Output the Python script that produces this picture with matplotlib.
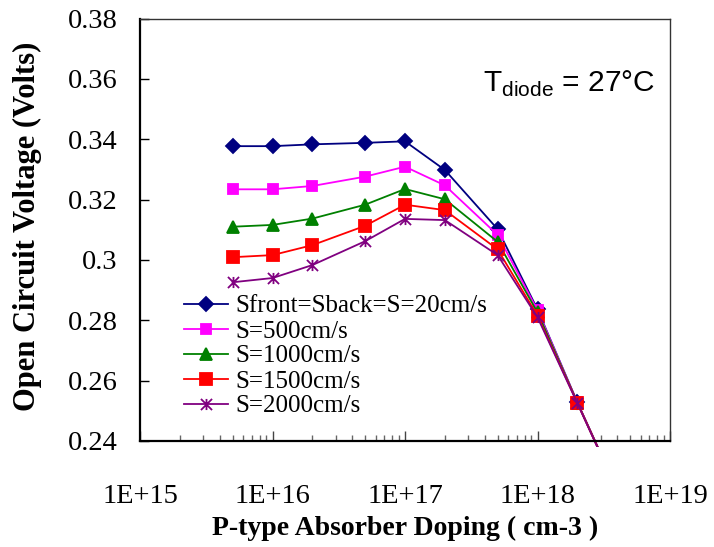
import matplotlib
matplotlib.use("Agg")
import matplotlib.pyplot as plt
from matplotlib.path import Path
from matplotlib.transforms import Bbox, TransformedBbox
from matplotlib.ticker import FixedLocator, LogLocator, NullFormatter

plt.rcParams["font.family"] = ["Liberation Serif", "DejaVu Serif"]
plt.rcParams["mathtext.fontset"] = "custom"
plt.rcParams["mathtext.rm"] = "Liberation Sans"

# doping levels (cm-3)
doping = [5e15, 1e16, 2e16, 5e16, 1e17, 2e17, 5e17, 1e18, 2e18, 5e18]

voc_20 = [0.3377, 0.3377, 0.3383, 0.3388, 0.3393, 0.3298, 0.3102, 0.2836, 0.2528, 0.2145]
voc_500 = [0.3234, 0.3234, 0.3245, 0.3276, 0.3309, 0.3247, 0.3083, 0.2833, 0.2528, 0.2145]
voc_1000 = [0.3110, 0.3116, 0.3137, 0.3183, 0.3235, 0.3201, 0.3060, 0.2826, 0.2527, 0.2144]
voc_1500 = [0.3009, 0.3016, 0.3049, 0.3113, 0.3183, 0.3165, 0.3035, 0.2815, 0.2526, 0.2143]
voc_2000 = [0.2926, 0.2940, 0.2983, 0.3062, 0.3136, 0.3132, 0.3016, 0.2810, 0.2525, 0.2142]

labels = ["Sfront=Sback=S=20cm/s", "S=500cm/s", "S=1000cm/s", "S=1500cm/s", "S=2000cm/s"]

y_ticks = [0.24, 0.26, 0.28, 0.3, 0.32, 0.34, 0.36, 0.38]
y_ticklabels = ["0.24", "0.26", "0.28", "0.3", "0.32", "0.34", "0.36", "0.38"]
x_ticks = [1e15, 1e16, 1e17, 1e18, 1e19]
x_ticklabels = ["1E+15", "1E+16", "1E+17", "1E+18", "1E+19"]

# asterisk-like star marker (vertical bar + X)
star = Path([(0, -1), (0, 1), (-1, -1), (1, 1), (-1, 1), (1, -1)],
            [Path.MOVETO, Path.LINETO, Path.MOVETO, Path.LINETO, Path.MOVETO, Path.LINETO])

styles = [
    ("#000080", "D", 7),
    ("#FF00FF", "s", 6.5),
    ("#008000", "^", 8),
    ("#FF0000", "s", 8),
    ("#800080", star, 8),
]

W, H = 714, 547
fig = plt.figure(figsize=(W / 100, H / 100), dpi=100)
ax = fig.add_axes([140 / W, 1 - 441 / H, 530 / W, 422.5 / H])

clip = TransformedBbox(Bbox([[0, -0.015], [1, 1]]), ax.transAxes)
for vals, lab, (col, mk, ms) in zip([voc_20, voc_500, voc_1000, voc_1500, voc_2000], labels, styles):
    line, = ax.plot(doping, vals, color=col, marker=mk, markersize=ms, linewidth=1.3,
                    markeredgecolor=col, markerfacecolor=col, markeredgewidth=1.3, label=lab)
    line.set_clip_box(clip)

ax.set_xscale("log")
ax.set_xlim(1e15, 1e19)
ax.set_ylim(0.24, 0.38)
ax.set_xticks(x_ticks)
ax.set_xticklabels(x_ticklabels, fontsize=20.5, family="Liberation Serif")
ax.xaxis.set_minor_locator(LogLocator(base=10, subs=range(2, 10)))
ax.xaxis.set_minor_formatter(NullFormatter())
ax.yaxis.set_major_locator(FixedLocator(y_ticks))
ax.set_yticklabels(y_ticklabels, fontsize=20.5, family="Liberation Serif")

ax.tick_params(axis="x", which="major", direction="in", length=7, width=1, pad=31, color="#444")
ax.tick_params(axis="x", which="minor", direction="in", length=4, width=1, color="#666")
ax.tick_params(axis="y", which="major", direction="in", length=6.5, width=1, pad=16)

for side in ["left", "bottom"]:
    ax.spines[side].set_linewidth(1.6)
    ax.spines[side].set_color("black")
for side in ["top", "right"]:
    ax.spines[side].set_linewidth(1.0)
    ax.spines[side].set_color("#333333")

fig.text(27 / W, 1 - 226 / H, "Open Circuit Voltage (Volts)", rotation=90,
         ha="center", va="center", fontsize=22, fontweight="bold")
fig.text(405 / W, 1 - 535 / H, "P-type Absorber Doping ( cm-3 )",
         ha="center", va="baseline", fontsize=20, fontweight="bold")

fig.text(483 / W, 1 - 92 / H, r"T$_{\mathrm{diode}}$ = 27°C",
         ha="left", va="baseline", fontsize=21.5, family="Liberation Sans")

ax.legend(loc="upper left", bbox_to_anchor=(184 / W, 1 - 295 / H), bbox_transform=fig.transFigure,
          frameon=False, fontsize=18, labelspacing=0.1, handlelength=1.75, handletextpad=0.3,
          borderpad=0, borderaxespad=0)

fig.savefig("out.png", dpi=100, facecolor="white")
